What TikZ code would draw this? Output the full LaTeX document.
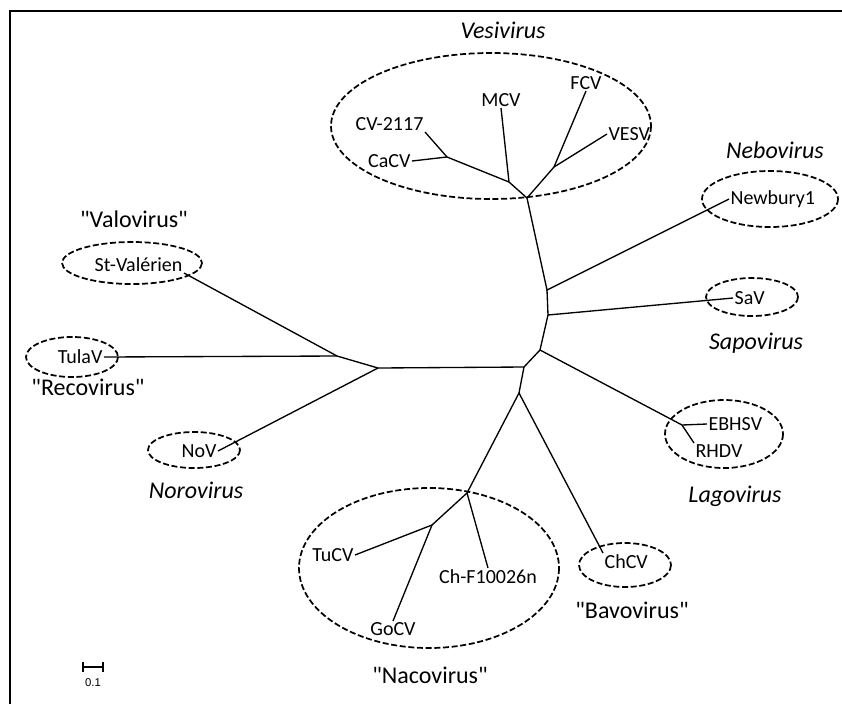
\documentclass[tikz,border=0pt]{standalone}
\usepackage{fontspec}
\setmainfont{Carlito}
\newfontfamily\scalefont{Liberation Sans}
\usetikzlibrary{calc,positioning}

\tikzset{
  leaf/.style={font=\fontsize{15}{17}\selectfont,inner sep=1pt},
  genus/.style={font=\fontsize{18}{21}\selectfont\itshape},
  proposed/.style={font=\fontsize{18}{21}\selectfont},
  clade/.style={line width=1.3pt,dash pattern=on 4.5pt off 2pt},
  branch/.style={line width=1pt}
}

\begin{document}
\begin{tikzpicture}[x=0.75pt,y=-0.75pt]
  \useasboundingbox (0,0) rectangle (842,704);
  % frame
  \draw[line width=2pt] (10,704) -- (10,11) -- (842,11);

  % inner nodes of the tree
  \coordinate (v0) at (527,198);
  \coordinate (v1) at (509,182);
  \coordinate (v2) at (447,157);
  \coordinate (v3) at (554,167);
  \coordinate (b1) at (547,290);
  \coordinate (b2) at (548,315);
  \coordinate (b3) at (540,350);
  \coordinate (b4) at (524,367);
  \coordinate (b5) at (519,393);
  \coordinate (l1) at (682,425);
  \coordinate (n1) at (467,493);
  \coordinate (n2) at (432,525);
  \coordinate (r1) at (378,368);
  \coordinate (r2) at (337,356);

  % leaves
  \node[leaf,anchor=south] (mcv) at (501,108) {MCV};
  \node[leaf,anchor=south] (fcv) at (586,91) {FCV};
  \node[leaf,anchor=west] (vesv) at (607,134) {VESV};
  \node[leaf,anchor=south east] (cv2117) at (425,132) {CV-2117};
  \node[leaf,anchor=east] (cacv) at (412,161) {CaCV};
  \node[leaf,anchor=west] (newbury) at (729,199) {Newbury1};
  \node[leaf,anchor=west] (sav) at (733,298) {SaV};
  \node[leaf,anchor=west] (ebhsv) at (707,424) {EBHSV};
  \node[leaf,anchor=north west] (rhdv) at (694,443) {RHDV};
  \node[leaf,anchor=north west] (chcv) at (603,553) {ChCV};
  \node[leaf,anchor=north] (chf) at (488,568) {Ch-F10026n};
  \node[leaf,anchor=east] (tucv) at (355,555) {TuCV};
  \node[leaf,anchor=north] (gocv) at (393,621) {GoCV};
  \node[leaf,anchor=south east] (stval) at (184,273) {St-Valérien};
  \node[leaf,anchor=east] (tulav) at (104,357) {TulaV};
  \node[leaf,anchor=east] (nov) at (218,451) {NoV};

  % branches
  \draw[branch] (v0) -- (v1) -- (mcv.south);
  \draw[branch] (v1) -- (v2) -- (cacv.east);
  \draw[branch] (v2) -- (cv2117.south east);
  \draw[branch] (v0) -- (v3) -- (fcv.south);
  \draw[branch] (v3) -- (vesv.west);
  \draw[branch] (v0) -- (b1) -- (newbury.west);
  \draw[branch] (b1) -- (b2) -- (sav.west);
  \draw[branch] (b2) -- (b3) -- (l1) -- (ebhsv.west);
  \draw[branch] (l1) -- (rhdv.north west);
  \draw[branch] (b3) -- (b4) -- (r1) -- (r2) -- (stval.south east);
  \draw[branch] (r2) -- (tulav.east);
  \draw[branch] (r1) -- (nov.east);
  \draw[branch] (b4) -- (b5) -- (chcv.north west);
  \draw[branch] (b5) -- (n1) -- (chf.north);
  \draw[branch] (n1) -- (n2) -- (tucv.east);
  \draw[branch] (n2) -- (gocv.north);

  % clades
  \draw[clade] (491,126) ellipse (160 and 73);
  \draw[clade] (770,199) ellipse (68 and 28);
  \draw[clade] (752,297) ellipse (46 and 19);
  \draw[clade] (724,434) ellipse (59 and 34);
  \draw[clade] (625,565) ellipse (46 and 22);
  \draw[clade] (429,568) ellipse (130 and 80);
  \draw[clade] (132,263) ellipse (70 and 21);
  \draw[clade] (72,357) ellipse (46 and 20);
  \draw[clade] (194,450) ellipse (46 and 18);

  % genus names
  \node[genus] (vesi) at (503,30) {Vesivirus};
  \node[genus] (nebo) at (775,150) {Nebovirus};
  \node[genus] (sapo) at (756,343) {Sapovirus};
  \node[genus] (lago) at (735,496) {Lagovirus};
  \node[genus] (noro) at (196,490) {Norovirus};
  \node[proposed] (bavo) at (632,610) {\textquotedbl Bavovirus\textquotedbl};
  \node[proposed] (naco) at (430,675) {\textquotedbl Nacovirus\textquotedbl};
  \node[proposed] (reco) at (88,387) {\textquotedbl Recovirus\textquotedbl};
  \node[proposed] (valo) at (134,219) {\textquotedbl Valovirus\textquotedbl};

  % scale bar
  \coordinate (s0) at (83,667);
  \coordinate (s1) at (103,667);
  \draw[line width=0.8pt] (s0) -- (s1);
  \draw[line width=0.8pt] ($(s0)+(0,-5)$) -- ($(s0)+(0,5)$);
  \draw[line width=0.8pt] ($(s1)+(0,-5)$) -- ($(s1)+(0,5)$);
  \node[font=\scalefont\fontsize{8.5}{10}\selectfont,inner sep=0pt] (sbar) at (93,683) {0.1};
\end{tikzpicture}
\end{document}
